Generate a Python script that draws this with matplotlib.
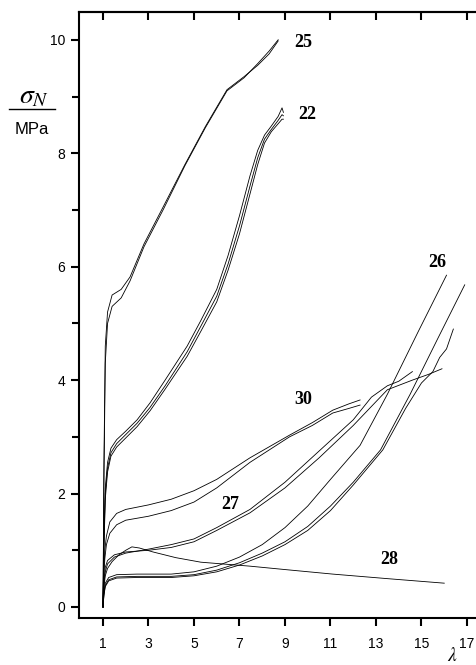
import matplotlib
matplotlib.use("Agg")
import matplotlib.pyplot as plt
from matplotlib.ticker import MultipleLocator

plt.rcParams['mathtext.fontset'] = 'stix'

# ---- data (lambda, sigma_N / MPa) ----
lam25 = [1.0, 1.04, 1.1, 1.2, 1.4, 1.8, 2.19, 2.8, 3.64, 4.6, 5.5, 6.45, 7.2, 7.8, 8.3, 8.7]
sig25a = [0, 2.5, 4.6, 5.2, 5.5, 5.6, 5.82, 6.4, 7.05, 7.8, 8.47, 9.12, 9.35, 9.55, 9.75, 9.98]
sig25b = [0, 2.2, 4.3, 5.0, 5.3, 5.45, 5.75, 6.35, 7.0, 7.78, 8.45, 9.1, 9.33, 9.58, 9.8, 10.0]

lam22 = [1.0, 1.04, 1.1, 1.2, 1.35, 1.6, 2.0, 2.5, 3.07, 3.73, 4.7, 5.3, 6.0, 6.5, 7.0, 7.46, 7.8, 8.1, 8.4, 8.7, 8.87, 8.93]
sig22a = [0, 1.2, 2.1, 2.55, 2.8, 2.95, 3.1, 3.3, 3.6, 4.0, 4.6, 5.05, 5.6, 6.2, 6.9, 7.6, 8.05, 8.32, 8.48, 8.65, 8.8, 8.72]
sig22b = [0, 1.1, 2.0, 2.45, 2.72, 2.88, 3.04, 3.24, 3.52, 3.9, 4.5, 4.95, 5.48, 6.05, 6.72, 7.42, 7.92, 8.25, 8.42, 8.58, 8.68, 8.66]
sig22c = [0, 1.0, 1.9, 2.38, 2.66, 2.82, 2.98, 3.18, 3.46, 3.84, 4.42, 4.86, 5.38, 5.94, 6.58, 7.28, 7.8, 8.18, 8.38, 8.52, 8.6, 8.6]

lam30 = [1.0, 1.03, 1.08, 1.15, 1.3, 1.6, 2.0, 3.0, 4.0, 5.0, 6.0, 7.46, 9.2, 10.2, 11.1, 11.8, 12.3]
sig30a = [0, 0.6, 1.0, 1.25, 1.5, 1.65, 1.72, 1.8, 1.9, 2.05, 2.25, 2.63, 3.03, 3.25, 3.47, 3.58, 3.65]
sig30b = [0, 0.5, 0.85, 1.1, 1.3, 1.45, 1.53, 1.6, 1.7, 1.85, 2.1, 2.55, 3.0, 3.2, 3.42, 3.5, 3.56]

lam27a = [1.0, 1.04, 1.1, 1.2, 1.5, 2.0, 3.0, 4.0, 5.0, 6.0, 7.46, 9.0, 10.5, 12.0, 13.5, 14.6, 15.3, 15.9]
sig27a = [0, 0.45, 0.7, 0.82, 0.92, 0.97, 1.0, 1.05, 1.15, 1.35, 1.66, 2.1, 2.63, 3.2, 3.83, 4.0, 4.1, 4.2]
lam27b = [1.0, 1.04, 1.1, 1.2, 1.5, 2.0, 3.0, 4.0, 5.0, 6.0, 7.46, 9.0, 10.5, 12.0, 12.8, 13.5, 14.0, 14.6]
sig27b = [0, 0.4, 0.62, 0.76, 0.88, 0.95, 1.02, 1.1, 1.2, 1.4, 1.72, 2.2, 2.75, 3.3, 3.7, 3.9, 3.98, 4.15]

lam26a = [1.0, 1.04, 1.1, 1.25, 1.6, 2.5, 4.0, 5.0, 6.0, 7.0, 8.0, 9.0, 10.0, 11.0, 12.3, 13.5, 14.85, 16.1]
sig26a = [0, 0.25, 0.42, 0.52, 0.57, 0.58, 0.58, 0.62, 0.72, 0.88, 1.1, 1.4, 1.78, 2.25, 2.85, 3.75, 4.85, 5.85]
lam26b = [1.0, 1.04, 1.1, 1.25, 1.6, 2.5, 4.0, 5.0, 6.0, 7.0, 8.0, 9.0, 10.0, 11.0, 12.0, 13.2, 14.5, 15.7, 16.9]
sig26b = [0, 0.22, 0.38, 0.48, 0.53, 0.54, 0.54, 0.57, 0.65, 0.78, 0.95, 1.15, 1.42, 1.78, 2.2, 2.77, 3.75, 4.72, 5.68]
lam26c = [1.0, 1.04, 1.1, 1.25, 1.6, 2.5, 4.0, 5.0, 6.0, 7.0, 8.0, 9.0, 10.0, 11.0, 12.0, 13.3, 14.3, 15.0, 15.5, 15.8, 16.1, 16.4]
sig26c = [0, 0.2, 0.36, 0.46, 0.51, 0.52, 0.52, 0.55, 0.62, 0.74, 0.9, 1.1, 1.35, 1.7, 2.15, 2.77, 3.5, 3.95, 4.15, 4.4, 4.55, 4.9]

lam28 = [1.0, 1.04, 1.1, 1.2, 1.4, 1.7, 2.0, 2.27, 2.6, 3.2, 4.2, 5.3, 7.46, 9.0, 11.1, 13.5, 16.0]
sig28 = [0, 0.35, 0.55, 0.68, 0.8, 0.92, 1.0, 1.06, 1.04, 0.97, 0.87, 0.79, 0.72, 0.66, 0.58, 0.5, 0.42]

curves = [
    (lam25, sig25a), (lam25, sig25b),
    (lam22, sig22a), (lam22, sig22b), (lam22, sig22c),
    (lam30, sig30a), (lam30, sig30b),
    (lam27a, sig27a), (lam27b, sig27b),
    (lam26a, sig26a), (lam26b, sig26b), (lam26c, sig26c),
    (lam28, sig28),
]

labels = ['25', '22', '26', '30', '27', '28']
label_x = [9.8, 10.0, 15.7, 9.8, 6.6, 13.6]
label_y = [9.95, 8.68, 6.08, 3.65, 1.8, 0.83]

fig = plt.figure(figsize=(4.77, 6.65), dpi=100)
ax = fig.add_axes([79 / 477, 1 - 618 / 665, 1 - 79 / 477, (618 - 12) / 665])

for lam, sig in curves:
    ax.plot(lam, sig, color='black', lw=0.6)

for t, x, y in zip(labels, label_x, label_y):
    ax.text(x, y, t, family='Liberation Serif', weight='bold', fontsize=13,
            ha='center', va='center')

ax.set_xlim(-0.055, 17.44)
ax.set_ylim(-0.194, 10.49)

ax.spines['right'].set_visible(False)
for s in ['left', 'top', 'bottom']:
    ax.spines[s].set_linewidth(1.5)

ax.set_xticks(range(1, 18, 2))
ax.yaxis.set_major_locator(MultipleLocator(2))
ax.yaxis.set_minor_locator(MultipleLocator(1))
ax.tick_params(axis='x', which='major', direction='out', length=6, width=1.5,
               labelsize=10, pad=8)
ax.tick_params(axis='y', which='major', direction='out', length=6, width=1.5,
               labelsize=10, pad=4)
ax.tick_params(axis='y', which='minor', direction='out', length=5, width=1.5)
for lab in ax.get_xticklabels() + ax.get_yticklabels():
    lab.set_family('Liberation Sans')

top = ax.secondary_xaxis('top')
top.set_xticks(range(1, 18, 2))
top.tick_params(direction='in', length=6, width=1.5, labeltop=False)
top.spines['top'].set_linewidth(1.5)

# y label as a fraction: sigma_N over MPa
fig.text(34 / 477, 1 - 95 / 665, r'$\sigma_N$', fontsize=20, ha='center', va='center')
fig.add_artist(plt.Line2D([9 / 477, 55 / 477], [1 - 109 / 665, 1 - 109 / 665],
                          color='black', lw=1.0))
fig.text(32 / 477, 1 - 130 / 665, 'MPa', family='Liberation Sans', fontsize=12,
         ha='center', va='center')
fig.text(452 / 477, 1 - 646 / 665, r'$\lambda$', fontsize=14, ha='center', va='top')

fig.savefig('out.png', dpi=100)
